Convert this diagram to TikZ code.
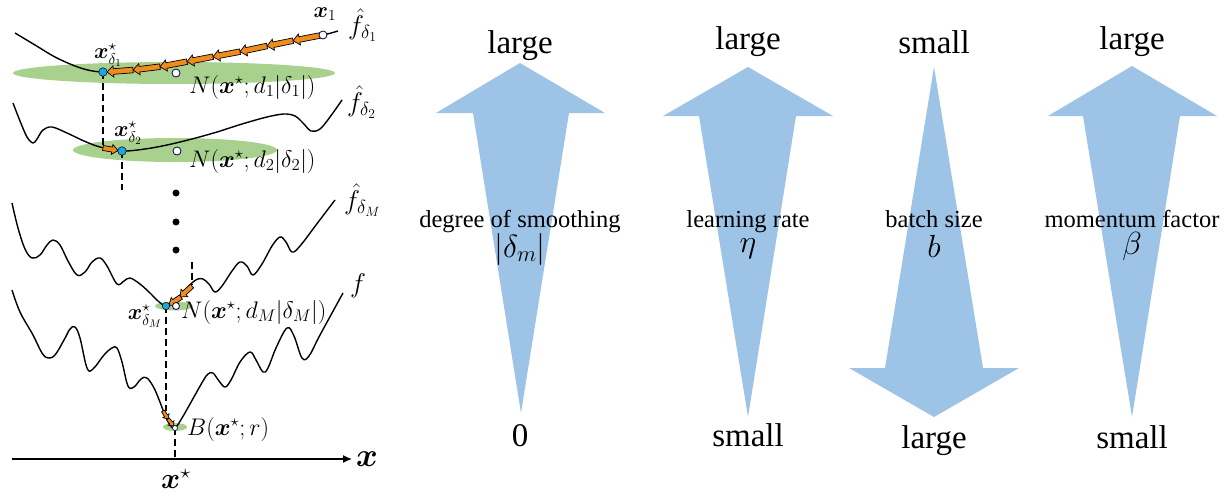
\RequirePackage{fix-cm}
\documentclass[tikz,border=0pt]{standalone}
\usepackage{amsmath}
\usepackage{fontspec}
\setmainfont{Liberation Serif}
\usetikzlibrary{calc,arrows.meta}
\definecolor{arrblue}{RGB}{157,195,230}
\definecolor{smgreen}{RGB}{169,209,142}
\definecolor{stepor}{RGB}{240,140,30}
\definecolor{dotcyan}{RGB}{30,165,230}
\newcommand\orarr[5]{%
  \coordinate (oa) at #4; \coordinate (ob) at #5;
  \coordinate (oh) at ($(ob)!#3!(oa)$);
  \filldraw[fill=stepor,draw=black,line width=0.7pt,line join=miter]
    ($(oa)!#1!90:(ob)$) -- ($(oh)!#1!-90:(oa)$) -- ($(oh)!#2!-90:(oa)$) -- (ob)
    -- ($(oh)!#2!90:(oa)$) -- ($(oh)!#1!90:(oa)$) -- ($(oa)!#1!-90:(ob)$) -- cycle;}
\begin{document}
\begin{tikzpicture}[x=1pt,y=-1pt,
  curve/.style={line width=1.4pt,line join=round},
  dashline/.style={line width=1.4pt,dash pattern=on 7pt off 4pt},
  cyandot/.style={circle,fill=dotcyan,draw=black,line width=0.5pt,inner sep=0pt,minimum size=8.5pt},
  whitedot/.style={circle,fill=white,draw=black!70!blue,line width=0.8pt,inner sep=0pt,minimum size=8pt},
  blackdot/.style={circle,fill=black,inner sep=0pt,minimum size=7pt},
  biglab/.style={anchor=base,font=\fontsize{33}{36}\selectfont,inner sep=0pt},
  midlab/.style={anchor=base,font=\fontsize{24.5}{27}\selectfont,inner sep=0pt},
  mathlab/.style={anchor=base,font=\fontsize{32}{36}\selectfont,inner sep=0pt},
  nlab/.style={anchor=west,font=\fontsize{24}{26}\selectfont,inner sep=0pt},
  flab/.style={anchor=west,font=\fontsize{27}{30}\selectfont,inner sep=0pt},
  xlab/.style={font=\fontsize{22}{24}\selectfont,inner sep=0pt},
  bluearrow/.style={fill=arrblue}]
\useasboundingbox (0,0) rectangle (1228,495);

% ---------- green neighbourhoods ----------
\fill[smgreen] (174,73) ellipse [x radius=161, y radius=11];
\fill[smgreen] (175,150) ellipse [x radius=102, y radius=12];
\fill[smgreen] (174,306) ellipse [x radius=19, y radius=4.5];
\fill[smgreen] (175,427) ellipse [x radius=12, y radius=4];

% ---------- curves ----------
\draw[curve] plot[smooth,tension=0.6] coordinates {(15,33) (35,45) (55,57) (75,66) (90,70.5) (103,72) (118,71.5) (133,70) (160,66.7) (187,61.7) (213,56.7) (240,51.7) (267,46) (293,40.7) (323,35) (338,31)};
\draw[curve] plot[smooth,tension=0.55] coordinates {(13,103) (20,121) (27,137) (33,143) (37,139) (43,130) (52,127) (67,133) (84,141) (100,147) (122,151) (145,149) (167,145) (192,139) (217,132) (242,124) (267,117) (284,114) (295,116) (303,123) (311,131) (320,129) (330,117) (342,100)};
\draw[curve] plot[smooth,tension=0.6] coordinates {(12,203) (18,228) (25,249) (32,258) (40,255) (47,245) (53,240) (60,245) (68,261) (77,275) (85,272) (92,262) (100,258) (107,266) (117,284) (124,281) (130,278) (140,284) (150,293) (158,301) (166,306) (174,302) (181,295) (187,288) (193,282) (198,279) (203,279) (209,284) (215,292) (222,286) (232,271) (240,262) (247,266) (253,275) (262,264) (272,246) (280,237) (286,242) (292,252) (300,246) (316,225) (335,200)};
\draw[curve] plot[smooth,tension=0.6] coordinates {(12,290) (20,312) (33,335) (42,353) (48,358) (55,355) (64,340) (70,329) (75,327) (80,338) (87,368) (93,369) (104,355) (112,348) (117,348) (122,362) (128,386) (134,387) (141,379) (147,378) (155,390) (165,415) (170,425) (175,428) (182,418) (190,404) (203,381) (208,374) (213,373) (219,381) (225,387) (231,380) (240,362) (250,352) (256,360) (263,372) (268,368) (276,348) (287,328) (294,336) (302,358) (309,356) (320,335) (343,293)};

% ---------- key points ----------
\coordinate (xone) at (323,35);
\coordinate (sone) at (103,72);
\coordinate (stwo) at (122,151);
\coordinate (sM) at (166,306);
\coordinate (xs) at (175,428);
\coordinate (axl) at (12,459);
\coordinate (axr) at (352,459);
\coordinate (xsax) at (175,459);

% ---------- dashed transfers ----------
\draw[dashline] (sone) -- (103,147);
\draw[dashline] (stwo) -- (122,190);
\draw[dashline] (192,262) -- (192,285);
\draw[dashline] (sM) -- (166,411);
\draw[dashline] (xs) -- (xsax);

% ---------- axis ----------
\draw[line width=1.4pt,-{Latex[length=9pt,width=8pt]}] (axl) -- (axr);

% ---------- orange step arrows ----------
\orarr{2.8pt}{5.6pt}{6.5pt}{(320,35.5)}{(293,40.7)}
\orarr{2.8pt}{5.6pt}{6.5pt}{(293,40.7)}{(267,46)}
\orarr{2.8pt}{5.6pt}{6.5pt}{(267,46)}{(240,51.7)}
\orarr{2.8pt}{5.6pt}{6.5pt}{(240,51.7)}{(213,56.7)}
\orarr{2.8pt}{5.6pt}{6.5pt}{(213,56.7)}{(187,61.7)}
\orarr{2.8pt}{5.6pt}{6.5pt}{(187,61.7)}{(160,66.7)}
\orarr{2.8pt}{5.6pt}{6.5pt}{(160,66.7)}{(133,70)}
\orarr{2.8pt}{5.6pt}{6.5pt}{(133,70)}{(107,72)}
\orarr{2.5pt}{5pt}{6pt}{(103,148)}{(118,150.5)}
\orarr{2.5pt}{5pt}{6pt}{(192,286)}{(180,297)}
\orarr{2.5pt}{5pt}{6pt}{(181,297)}{(169,305)}
\orarr{1.7pt}{3.6pt}{3.8pt}{(163,411)}{(168,419)}
\orarr{1.7pt}{3.6pt}{3.8pt}{(168,419)}{(173.5,426)}

% ---------- dots ----------
\node[whitedot] (dx1) at (xone) {};
\node[whitedot] (c1) at (176,73) {};
\node[cyandot] (d1) at (sone) {};
\node[whitedot] (c2) at (177,151) {};
\node[cyandot] (d2) at (stwo) {};
\node[blackdot] (e1) at (176,193) {};
\node[blackdot] (e2) at (176,222) {};
\node[blackdot] (e3) at (176,250) {};
\node[whitedot,minimum size=7pt] (cM) at (176,306) {};
\node[cyandot,minimum size=7.5pt] (dM) at (sM) {};
\node[whitedot,minimum size=5pt,line width=0.6pt] (cx) at (xs) {};

% ---------- left labels ----------
\node[xlab] (lx1) at (325,14) {$\boldsymbol{x}_1$};
\node[flab] (lf1) at (348,25) {$\hat{f}_{\delta_1}$};
\node[flab] (lf2) at (347,102) {$\hat{f}_{\delta_2}$};
\node[flab] (lfM) at (344,200) {$\hat{f}_{\delta_M}$};
\node[flab] (lf) at (350,286) {$f$};
\node[xlab] (ls1) at (108,55) {$\boldsymbol{x}^{\star}_{\delta_1}$};
\node[xlab] (ls2) at (128,133) {$\boldsymbol{x}^{\star}_{\delta_2}$};
\node[xlab] (lsM) at (145,316) {$\boldsymbol{x}^{\star}_{\delta_M}$};
\node[nlab] (n1) at (189,87) {$N(\boldsymbol{x}^{\star};d_1|\delta_1|)$};
\node[nlab] (n2) at (189,161) {$N(\boldsymbol{x}^{\star};d_2|\delta_2|)$};
\node[nlab] (nM) at (181,312) {$N(\boldsymbol{x}^{\star};d_M|\delta_M|)$};
\node[nlab] (nB) at (187,429) {$B(\boldsymbol{x}^{\star};r)$};
\node[font=\fontsize{29}{31}\selectfont,inner sep=0pt] (lxs) at (176,479) {$\boldsymbol{x}^{\star}$};
\node[font=\fontsize{33}{36}\selectfont,inner sep=0pt,anchor=west] (lx) at (356,459) {$\boldsymbol{x}$};

% ---------- right blue arrows ----------
\fill[bluearrow] (520,63) -- (605,113) -- (569,113) -- (521,413) -- (473,113) -- (436,113) -- cycle;
\fill[bluearrow] (748,67) -- (833,116) -- (796,116) -- (748,417) -- (699,116) -- (663,116) -- cycle;
\fill[bluearrow] (934,67) -- (983,368) -- (1019,368) -- (934,417) -- (849,368) -- (885,368) -- cycle;
\fill[bluearrow] (1132,66) -- (1217,116) -- (1180,116) -- (1132,417) -- (1083,116) -- (1048,116) -- cycle;

% ---------- right labels ----------
\node[biglab] (t1) at (520,53) {large};
\node[biglab] (t2) at (748,50) {large};
\node[biglab] (t3) at (934,53) {small};
\node[biglab] (t4) at (1132,50) {large};
\node[biglab] (b1) at (520,446) {0};
\node[biglab] (b2) at (748,446) {small};
\node[biglab] (b3) at (934,448) {large};
\node[biglab] (b4) at (1132,448) {small};
\node[midlab] (m1) at (520,227) {degree of smoothing};
\node[midlab] (m2) at (748,227) {learning rate};
\node[midlab] (m3) at (934,227) {batch size};
\node[midlab] (m4) at (1132,227) {momentum factor};
\node[mathlab] (s1) at (520,257) {$|\delta_m|$};
\node[mathlab] (s2) at (748,252) {$\eta$};
\node[mathlab] (s3) at (934,257) {$b$};
\node[mathlab] (s4) at (1132,254) {$\beta$};
\end{tikzpicture}
\end{document}
